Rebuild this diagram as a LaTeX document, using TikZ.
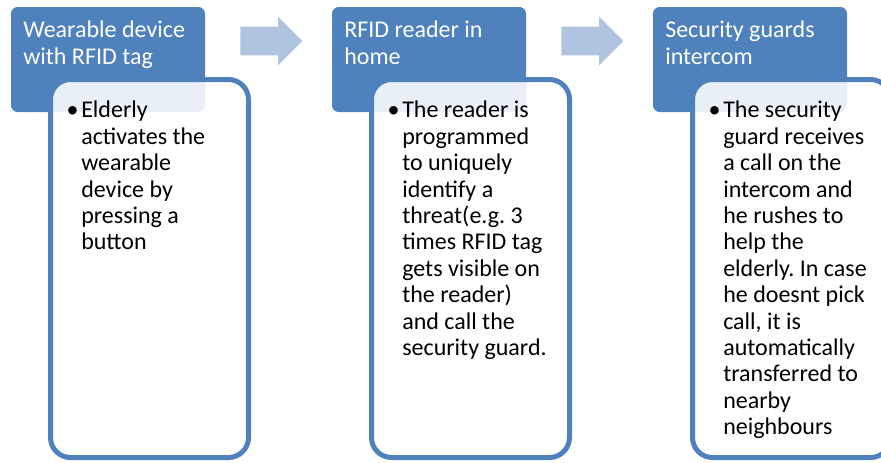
\documentclass[tikz,border=0pt]{standalone}
\usepackage{fontspec}
\setmainfont{Carlito}
\usetikzlibrary{shapes.arrows}

\definecolor{hdrblue}{HTML}{4F81BD}
\definecolor{arrowblue}{HTML}{B0C3DF}

\newcommand{\itembullet}{\llap{\textbullet\hspace{2pt}}}
\frenchspacing

\begin{document}
\begin{tikzpicture}[x=.75pt,y=-.75pt,
                    hdr/.style={fill=hdrblue,rounded corners=5pt},
                    bodybox/.style={draw=hdrblue,line width=3.75pt,fill=white,
                                    fill opacity=.88,rounded corners=15pt},
                    hdrtext/.style={anchor=north west,inner sep=0pt,align=left,
                                    text=white,font=\fontsize{18}{19.6}\selectfont},
                    bodytext/.style={anchor=north west,inner sep=0pt,align=left,
                                     text=black,font=\fontsize{18}{19.8}\selectfont},
                    flowarrow/.style={single arrow,fill=arrowblue,inner xsep=0pt,
                                      inner ysep=10.5pt,minimum height=46.5pt,
                                      minimum width=36pt,single arrow head extend=7.5pt,
                                      single arrow tip angle=90,anchor=tail}]
 \useasboundingbox (0,0) rectangle (881,462);
 \clip (0,0) rectangle (881,462);

 % wearable device
 \fill[hdr] (11,7) rectangle (205,112);
 \draw[bodybox] (50.5,79.5) rectangle (248.5,457.5);
 \node[hdrtext] (hdrA) at (23,21) {Wearable device\\with RFID tag};
 \node[bodytext] (txtA) at (81,101) {\itembullet Elderly\\activates the\\wearable\\
   device by\\pressing a\\button};

 % reader
 \fill[hdr] (332,7) rectangle (526,112);
 \draw[bodybox] (371.5,79.5) rectangle (569.5,457.5);
 \node[hdrtext] (hdrB) at (344,21) {RFID reader in\\home};
 \node[bodytext] (txtB) at (402,101) {\itembullet The reader is\\programmed\\to uniquely\\
   identify a\\threat(e.g. 3\\times RFID tag\\gets visible on\\the reader)\\and call the\\
   security guard.};

 % guards
 \fill[hdr] (653,7) rectangle (847,112);
 \draw[bodybox] (692.5,79.5) rectangle (890.5,457.5);
 \node[hdrtext] (hdrC) at (665,21) {Security guards\\intercom};
 \node[bodytext] (txtC) at (723,101) {\itembullet The security\\guard receives\\a call on the\\
   intercom and\\he rushes to\\help the\\elderly. In case\\he doesnt pick\\call, it is\\
   automatically\\transferred to\\nearby\\neighbours};

 \node[flowarrow] (arrAB) at (240,41) {};
 \node[flowarrow] (arrBC) at (561,41) {};
\end{tikzpicture}
\end{document}
